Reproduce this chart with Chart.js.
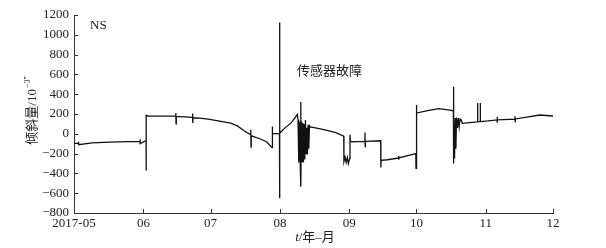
<!DOCTYPE html>
<html>
<head>
<meta charset="utf-8">
<script src="https://cdn.jsdelivr.net/npm/chart.js@4.4.1/dist/chart.umd.min.js"></script>
<style>
  html, body { margin: 0; padding: 0; background: #fff; }
  #wrap { width: 606px; height: 248px; }
</style>
</head>
<body>
<div id="wrap"><canvas id="tiltChart" width="606" height="248"></canvas></div>
<script>
/* NS tilt record, 2017-05 .. 2017-12
   x = days since 2017-05-01, y = tilt (10^-3 arcsec) */

const MONTH_DAYS   = [0, 31, 61, 92, 123, 153, 184, 214];
const MONTH_LABELS = ['2017-05', '06', '07', '08', '09', '10', '11', '12'];
const Y_TICKS      = [-800, -600, -400, -200, 0, 200, 400, 600, 800, 1000, 1200];

const DAYS = [
  0, 2, 2, 2.1, 8, 16, 24, 29.5, 29.5, 29.6, 31.6,
  32.2, 32.2, 32.3, 33, 38, 45.5, 45.5, 45.6, 45.7, 53, 53, 53.1, 53.2,
  56, 60, 65, 70, 73, 76, 79, 79, 79.1, 79.2, 83, 86, 88.5, 88.6, 88.7,
  91.8, 91.8, 91.9, 92, 94, 97, 99.8,
  100.1, 100.4, 100.7, 101.0, 101.3, 101.35, 101.6, 101.9, 102.2, 102.5,
  102.8, 103.1, 103.4, 103.7, 104.0, 104.3, 104.6, 104.9, 105.2,
  105.5, 109, 113, 117, 120.5, 120.6, 121.1, 121.6, 122.1, 122.6, 123.1, 123.3, 123.5,
  130, 130, 130.1, 130.2, 137, 137.1, 137.2, 140, 145, 145, 145.1, 145.2, 150,
  152.7, 152.8, 152.9, 153.2, 158, 163, 168,
  169.5, 169.5, 169.6, 169.7, 170.0, 170.3, 170.6, 170.9, 171.3, 171.7, 172.1, 172.5, 173,
  173.5, 178, 180.3, 180.3, 180.4, 181.5, 181.5, 181.6, 185,
  189, 189, 189.1, 189.2, 197, 197, 197.1, 197.2, 203, 208, 214
];

const TILT = [
  -98, -95, -80, -110, -92, -85, -80, -76, -55, -100, -74,
  -74, -370, 185, 180, 178, 178, 210, 100, 175, 165, 205, 110, 162,
  158, 148, 128, 108, 80, 30, -10, 40, -135, -20, -50, -80, -140, 75, 5,
  0, 1125, -650, 5, 55, 110, 195,
  140, -290, 120, -250, 320, -535, 130, -280, 110, -290,
  100, -260, 140, -200, 60, -210, 90, -150, 80,
  70, 55, 35, 12, -25, -280, -235, -290, -240, -300, -250, -10, -80,
  -76, 12, -130, -76, -70, -340, -268, -262, -245, -225, -260, -243, -215,
  -200, -350, 290, 210, 235, 255, 240,
  232, 476, -300, 150, -250, 160, -150, 165, 60, 160, 70, 150, 140,
  105, 115, 120, 310, 122, 122, 310, 124, 130,
  140, 172, 112, 141, 148, 178, 122, 150, 170, 190, 180
];

const SERIF = "'Liberation Serif', 'Noto Sans CJK SC', serif";

/* inward tick marks + free text */
const decorPlugin = {
  id: 'decor',
  afterDraw(chart) {
    const ctx = chart.ctx;
    const { left, bottom } = chart.chartArea;
    const xs = chart.scales.x, ys = chart.scales.y;

    ctx.save();
    ctx.strokeStyle = '#333';
    ctx.lineWidth = 1;
    ctx.beginPath();
    Y_TICKS.forEach(v => {
      const py = Math.round(ys.getPixelForValue(v)) + 0.5;
      ctx.moveTo(left, py);
      ctx.lineTo(left + 4, py);
    });
    MONTH_DAYS.forEach(v => {
      const px = Math.round(xs.getPixelForValue(v)) + 0.5;
      ctx.moveTo(px, bottom);
      ctx.lineTo(px, bottom - 4);
    });
    ctx.stroke();

    ctx.fillStyle = '#222';
    ctx.textBaseline = 'middle';

    // panel tag
    ctx.font = '13px ' + SERIF;
    ctx.textAlign = 'left';
    ctx.fillText('NS', 90, 26);

    // annotation
    ctx.font = '13px ' + SERIF;
    ctx.fillText('传感器故障', 297, 72);

    // x title: t/年–月
    ctx.font = 'italic 13px ' + SERIF;
    const tW = ctx.measureText('t').width;
    ctx.font = '13px ' + SERIF;
    const restW = ctx.measureText('/年–月').width;
    let x0 = 315 - (tW + restW) / 2;
    ctx.font = 'italic 13px ' + SERIF;
    ctx.fillText('t', x0, 238);
    ctx.font = '13px ' + SERIF;
    ctx.fillText('/年–月', x0 + tW, 238);

    // y title, rotated
    ctx.translate(33, 111);
    ctx.rotate(-Math.PI / 2);
    ctx.font = '13px ' + SERIF;
    const main = '倾斜量/10';
    const mW = ctx.measureText(main).width;
    ctx.font = '8px ' + SERIF;
    const sup = '−3″';
    const sW = ctx.measureText(sup).width;
    const sx = -(mW + sW) / 2;
    ctx.font = '13px ' + SERIF;
    ctx.fillText(main, sx, 0);
    ctx.font = '8px ' + SERIF;
    ctx.fillText(sup, sx + mW + 1, -5);
    ctx.restore();
  }
};

new Chart(document.getElementById('tiltChart'), {
  type: 'line',
  data: {
    datasets: [{
      label: 'NS',
      data: DAYS.map((d, i) => ({ x: d, y: TILT[i] })),
      borderColor: '#111',
      borderWidth: 1.3,
      pointRadius: 0,
      tension: 0,
      fill: false,
    }],
  },
  options: {
    responsive: false,
    devicePixelRatio: 1,
    animation: false,
    layout: { padding: { top: 15, right: 53, left: 0, bottom: 0 } },
    plugins: { legend: { display: false }, tooltip: { enabled: false } },
    scales: {
      x: {
        type: 'linear',
        min: 0,
        max: 214,
        afterBuildTicks: s => { s.ticks = MONTH_DAYS.map(v => ({ value: v })); },
        afterFit: s => { s.height = 35; },
        ticks: {
          autoSkip: false,
          maxRotation: 0,
          padding: 3,
          color: '#222',
          font: { family: SERIF, size: 13 },
          callback: (v, i) => MONTH_LABELS[i],
        },
        grid: { display: false, drawTicks: false },
        border: { display: true, color: '#333', width: 1 },
      },
      y: {
        min: -800,
        max: 1200,
        afterBuildTicks: s => { s.ticks = Y_TICKS.map(v => ({ value: v })); },
        afterFit: s => { s.width = 74; },
        ticks: {
          padding: 5,
          color: '#222',
          font: { family: SERIF, size: 13 },
          callback: v => String(v).replace('-', '−'),
        },
        grid: { display: false, drawTicks: false },
        border: { display: true, color: '#333', width: 1 },
      },
    },
  },
  plugins: [decorPlugin],
});
</script>
</body>
</html>
